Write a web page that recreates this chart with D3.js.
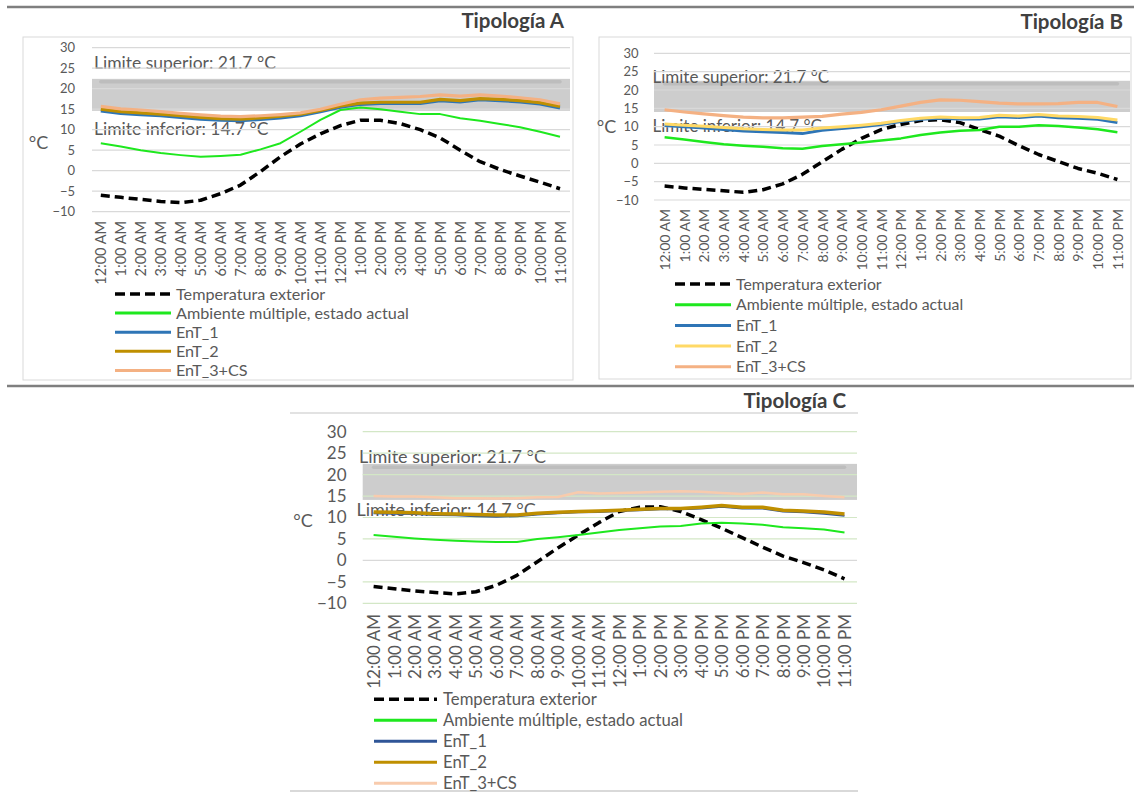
<!DOCTYPE html>
<html><head><meta charset="utf-8">
<script src="https://cdn.jsdelivr.net/npm/d3@7"></script>
<style>html,body{margin:0;padding:0;background:#fff;}svg{display:block;}</style>
</head><body>
<svg id="chart" width="1134" height="794"></svg>
<script>
// ---------- DATA ----------
const hours = ["12:00 AM","1:00 AM","2:00 AM","3:00 AM","4:00 AM","5:00 AM","6:00 AM","7:00 AM","8:00 AM","9:00 AM","10:00 AM","11:00 AM",
               "12:00 PM","1:00 PM","2:00 PM","3:00 PM","4:00 PM","5:00 PM","6:00 PM","7:00 PM","8:00 PM","9:00 PM","10:00 PM","11:00 PM"];
const yTicks = [-10,-5,0,5,10,15,20,25,30];
const seriesNames = ["Temperatura exterior","Ambiente múltiple, estado actual","EnT_1","EnT_2","EnT_3+CS"];
const panelTitles = ["Tipología A","Tipología B","Tipología C"];
const limitLabels = ["Limite superior: 21.7 °C","Limite inferior: 14.7 °C"];
const upperLimit = 21.7;
const comfortBandA = [14.6, 22.4];
const comfortBandB = [14.0, 22.5];
const comfortBandC = [14.1, 22.5];

// Tipología A
const tempA = [-6.0,-6.5,-7.0,-7.5,-7.8,-7.2,-5.6,-3.5,-0.2,3.4,6.5,9.0,11.0,12.3,12.3,11.5,10.0,8.0,5.0,2.2,0.3,-1.3,-2.8,-4.4];
const ambA  = [6.7,5.9,5.0,4.3,3.8,3.4,3.6,3.9,5.2,6.7,9.5,12.4,14.8,15.4,15.0,14.4,13.8,13.8,12.8,12.2,11.4,10.6,9.5,8.3];
const ent1A = [14.6,14.0,13.7,13.4,13.0,12.6,12.3,12.2,12.5,12.9,13.4,14.4,15.5,16.2,16.4,16.4,16.4,17.1,16.8,17.3,17.1,16.8,16.3,15.3];
const ent2A = [15.0,14.4,14.1,13.8,13.4,13.0,12.7,12.6,12.9,13.3,13.8,14.7,15.8,16.5,16.7,16.7,16.7,17.4,17.1,17.6,17.4,17.1,16.6,15.7];
const ent3A = [15.7,15.1,14.8,14.4,14.0,13.6,13.3,13.2,13.4,13.7,14.1,15.0,16.2,17.3,17.7,17.9,18.1,18.5,18.2,18.5,18.2,17.8,17.3,16.3];

// Tipología B
const tempB = [-6.2,-6.7,-7.1,-7.5,-7.9,-7.2,-5.6,-3.0,0.4,3.8,6.8,9.2,10.6,11.7,11.9,11.1,9.2,7.4,4.8,2.4,0.5,-1.4,-2.7,-4.4];
const ambB  = [7.1,6.5,5.8,5.2,4.8,4.5,4.1,4.0,4.7,5.2,5.7,6.2,6.8,7.7,8.4,8.9,9.1,10.0,10.0,10.4,10.2,9.8,9.3,8.5];
const ent1B = [10.3,10.0,9.6,9.2,8.8,8.6,8.4,8.1,9.0,9.5,10.0,10.6,11.4,12.0,12.3,12.1,12.1,12.7,12.5,12.9,12.4,12.3,12.0,11.1];
const ent2B = [10.7,10.4,10.1,9.8,9.4,9.2,9.1,9.1,9.6,10.0,10.4,10.9,11.7,12.3,12.6,12.4,12.5,13.1,12.9,13.3,12.9,12.8,12.5,11.8];
const ent3B = [14.6,14.0,13.5,13.0,12.6,12.4,12.4,12.6,12.8,13.4,13.9,14.6,15.6,16.6,17.3,17.2,16.8,16.4,16.2,16.2,16.3,16.6,16.6,15.5];

// Tipología C
const tempC = [-6.1,-6.6,-7.1,-7.5,-7.8,-7.3,-5.8,-3.5,-0.3,2.9,5.9,8.8,11.4,12.4,12.5,11.4,9.5,7.5,5.3,3.1,1.0,-0.5,-2.2,-4.3];
const ambC  = [5.9,5.5,5.1,4.8,4.6,4.4,4.3,4.3,5.0,5.4,5.9,6.5,7.1,7.5,7.9,8.0,8.6,8.8,8.6,8.3,7.7,7.5,7.2,6.5];
const ent1C = [11.0,10.9,10.8,10.6,10.5,10.3,10.2,10.3,10.7,11.0,11.2,11.3,11.5,11.7,11.9,11.9,12.1,12.5,12.1,12.1,11.4,11.2,10.9,10.4];
const ent2C = [11.3,11.2,11.1,10.9,10.8,10.7,10.6,10.6,11.0,11.2,11.4,11.5,11.7,11.9,12.1,12.1,12.4,12.8,12.4,12.4,11.7,11.5,11.3,10.8];
const ent3C = [15.0,14.9,14.9,14.7,14.5,14.5,14.4,14.5,14.7,14.8,15.9,15.6,15.7,15.8,16.0,16.1,16.0,15.7,15.5,15.8,15.4,15.4,15.0,14.7];

// ---------- STYLE / LAYOUT ----------
const FONT = "Lato, 'Noto Sans', sans-serif";
const TXT = "#595959";
const panels = [
  { title: panelTitles[0], series: [tempA, ambA, ent1A, ent2A, ent3A], band: comfortBandA,
    colors: ["#000000","#1ee81e","#2e75b6","#bf8f00","#f4b183"], widths: [3.5,2,3.2,3.2,3.2],
    x0: 100.8, x1: 560, y30: 47.7, yM10: 211.7, gridL: 92, gridR: 570, gridColor: "#d9d9d9", zeroColor: "#d9d9d9",
    tickRight: 75, tickFont: 13, degX: 38.5, degY: 143, degFont: 18,
    titleX: 564, titleY: 28, titleFont: 20.5,
    supX: 94, supY: 69, infX: 94, infY: 135, limFont: 17.5,
    xlabTop: 221, xlabFont: 14.5,
    legX0: 115, legX1: 171, legTX: 176, legY0: 294, legDY: 19.1, legFont: 16.2,
    box: [23, 37, 573, 380] },
  { title: panelTitles[1], series: [tempB, ambB, ent1B, ent2B, ent3B], band: comfortBandB,
    colors: ["#000000","#1ee81e","#2e75b6","#ffd966","#f4b183"], widths: [3.5,2.5,3,3,3.2],
    x0: 664.6, x1: 1117.4, y30: 53.3, yM10: 200, gridL: 654, gridR: 1130, gridColor: "#d9d9d9", zeroColor: "#d9d9d9",
    tickRight: 638.5, tickFont: 13, degX: 606.5, degY: 127, degFont: 18,
    titleX: 1123, titleY: 29, titleFont: 20.5,
    supX: 652.5, supY: 83, infX: 652.5, infY: 132, limFont: 17,
    xlabTop: 209, xlabFont: 14,
    legX0: 675, legX1: 731, legTX: 736, legY0: 284, legDY: 20.7, legFont: 15.8,
    box: [599, 37, 1131, 379] },
  { title: panelTitles[2], series: [tempC, ambC, ent1C, ent2C, ent3C], band: comfortBandC,
    colors: ["#000000","#1ee81e","#2f5597","#bf8f00","#f8cbad"], widths: [3.5,2,2,3.5,2.5],
    x0: 373.6, x1: 844.5, y30: 431.7, yM10: 603.3, gridL: 362.7, gridR: 857, gridColor: "#d3e7c6", zeroColor: "#d9d9d9",
    tickRight: 346.5, tickFont: 17, degX: 303, degY: 520.7, degFont: 18,
    titleX: 846, titleY: 408, titleFont: 20.5,
    supX: 359, supY: 463, infX: 356.5, infY: 516, limFont: 18,
    xlabTop: 614, xlabFont: 17,
    legX0: 374, legX1: 437, legTX: 443, legY0: 699.3, legDY: 21, legFont: 16.7,
    box: null }
];

const svg = d3.select("#chart");
svg.append("rect").attr("width",1134).attr("height",794).attr("fill","#fff");

// frame lines
svg.append("line").attr("x1",7).attr("x2",1134).attr("y1",7).attr("y2",7).attr("stroke","#7f7f7f").attr("stroke-width",2.5);
svg.append("line").attr("x1",7).attr("x2",1134).attr("y1",386).attr("y2",386).attr("stroke","#7f7f7f").attr("stroke-width",2.5);
svg.append("line").attr("x1",290).attr("x2",858).attr("y1",413).attr("y2",413).attr("stroke","#d9d9d9").attr("stroke-width",1.5);
svg.append("line").attr("x1",290).attr("x2",858).attr("y1",791).attr("y2",791).attr("stroke","#d9d9d9").attr("stroke-width",2);

panels.forEach(p => {
  const g = svg.append("g");
  const x = d3.scalePoint().domain(hours).range([p.x0, p.x1]);
  const y = d3.scaleLinear().domain([-10, 30]).range([p.yM10, p.y30]);

  if (p.box) {
    g.append("rect").attr("x",p.box[0]).attr("y",p.box[1]).attr("width",p.box[2]-p.box[0]).attr("height",p.box[3]-p.box[1])
      .attr("fill","none").attr("stroke","#d9d9d9").attr("stroke-width",1);
  }

  // title
  g.append("text").attr("x",p.titleX).attr("y",p.titleY).attr("text-anchor","end")
    .attr("font-family",FONT).attr("font-weight","bold").attr("font-size",p.titleFont).attr("fill","#404040").text(p.title);

  // comfort band
  g.append("rect").attr("x",p.gridL).attr("width",p.gridR-p.gridL)
    .attr("y",y(p.band[1])).attr("height",y(p.band[0])-y(p.band[1])).attr("fill","#cdcdcd");
  g.append("line").attr("x1",x(hours[0])).attr("x2",x(hours[hours.length-1]))
    .attr("y1",y(upperLimit)).attr("y2",y(upperLimit)).attr("stroke","#bdbdbd").attr("stroke-width",3.5).attr("stroke-linecap","round");

  // limit labels
  g.append("text").attr("x",p.supX).attr("y",p.supY).attr("font-family",FONT).attr("font-size",p.limFont).attr("fill",TXT).text(limitLabels[0]);
  g.append("text").attr("x",p.infX).attr("y",p.infY).attr("font-family",FONT).attr("font-size",p.limFont).attr("fill",TXT).text(limitLabels[1]);

  // gridlines
  g.append("g").selectAll("line").data(yTicks).join("line")
    .attr("x1",p.gridL).attr("x2",p.gridR).attr("y1",d=>y(d)).attr("y2",d=>y(d))
    .attr("stroke",d=> d===0 ? p.zeroColor : p.gridColor).attr("stroke-width",1.2);

  // y axis labels
  const ya = g.append("g").attr("transform",`translate(${p.tickRight},0)`)
    .call(d3.axisLeft(y).tickValues(yTicks).tickSize(0).tickPadding(0).tickFormat(d3.format("d")));
  ya.select(".domain").remove();
  ya.selectAll("text").attr("font-family",FONT).attr("font-size",p.tickFont).attr("fill",TXT);

  // °C
  g.append("text").attr("x",p.degX).attr("y",p.degY).attr("dy","0.35em").attr("text-anchor","middle")
    .attr("font-family",FONT).attr("font-size",p.degFont).attr("fill",TXT).text("°C");

  // x axis labels (rotated)
  const xa = g.append("g").attr("transform",`translate(0,${p.xlabTop})`)
    .call(d3.axisBottom(x).tickSize(0).tickPadding(0));
  xa.select(".domain").remove();
  xa.selectAll("text").attr("transform","rotate(-90)").attr("text-anchor","end")
    .attr("x",0).attr("y",0).attr("dy","0.35em")
    .attr("font-family",FONT).attr("font-size",p.xlabFont).attr("fill",TXT);

  // series lines
  const line = d3.line().x((d,i)=>x(hours[i])).y(d=>y(d)).curve(d3.curveLinear);
  p.series.forEach((s, k) => {
    g.append("path").datum(s).attr("d",line).attr("fill","none")
      .attr("stroke",p.colors[k]).attr("stroke-width",p.widths[k])
      .attr("stroke-linejoin","round")
      .attr("stroke-dasharray", k===0 ? "9,5" : null);
  });

  // legend
  seriesNames.forEach((name, k) => {
    const ly = p.legY0 + k*p.legDY;
    g.append("line").attr("x1",p.legX0).attr("x2",p.legX1).attr("y1",ly).attr("y2",ly)
      .attr("stroke",p.colors[k]).attr("stroke-width", k===0 ? 3.5 : 3)
      .attr("stroke-dasharray", k===0 ? "10,5" : null);
    g.append("text").attr("x",p.legTX).attr("y",ly).attr("dy","0.35em")
      .attr("font-family",FONT).attr("font-size",p.legFont).attr("fill",TXT).text(name);
  });
});
</script>
</body></html>
